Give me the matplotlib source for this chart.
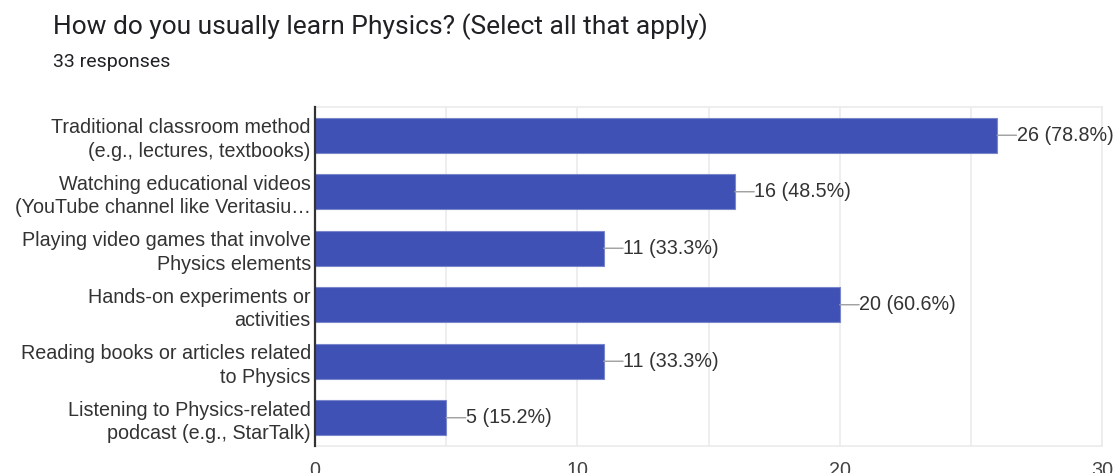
import matplotlib
matplotlib.use("Agg")
import matplotlib.pyplot as plt

# ---- data ----
categories = [
    "Traditional classroom method\n(e.g., lectures, textbooks)",
    "Watching educational videos\n(YouTube channel like Veritasiu\u2026",
    "Playing video games that involve\nPhysics elements",
    "Hands-on experiments or\nactivities",
    "Reading books or articles related\nto Physics",
    "Listening to Physics-related\npodcast (e.g., StarTalk)",
]
counts = [26, 16, 11, 20, 11, 5]
percents = ["78.8%", "48.5%", "33.3%", "60.6%", "33.3%", "15.2%"]
xticks = [0, 10, 20, 30]

BAR, TXT, GRID = "#3f51b5", "#333333", "#ebebeb"
plt.rcParams.update({"font.family": ["Liberation Sans", "DejaVu Sans"]})

fig = plt.figure(figsize=(11.14, 4.73), dpi=100)
ax = fig.add_axes([0.2828, 0.0571, 0.7064, 0.7167])

y = list(range(len(categories)))
ax.barh(y, counts, height=0.62, color=BAR, edgecolor="#7986cb", linewidth=0.8, zorder=3)
for yi, c, p in zip(y, counts, percents):
    # leader line, then the value label right after it
    ax.annotate("", xy=(c, yi), xytext=(14, 0), textcoords="offset points",
                arrowprops=dict(arrowstyle="-", color="#9e9e9e", lw=1, shrinkA=0, shrinkB=0),
                annotation_clip=False)
    ax.annotate(f"{c} ({p})", xy=(c, yi), xytext=(14.2, 0), textcoords="offset points",
                ha="left", va="center", fontsize=14.2, color=TXT, annotation_clip=False)

ax.set_ylim(len(categories) - 0.5, -0.5)
ax.set_xlim(0, 30)
ax.set_yticks(y)
ax.set_yticklabels(categories, fontsize=14.2, color=TXT, linespacing=1.3)
ax.set_xticks(xticks)
ax.set_xticklabels([str(t) for t in xticks], fontsize=14.2, color="#444444")
ax.set_xticks(range(0, 31, 5), minor=True)
ax.tick_params(axis="y", length=0, pad=3)
ax.tick_params(axis="x", which="both", length=0, pad=11)
ax.grid(axis="x", which="both", color=GRID, lw=1.2, zorder=0)
for s in ("top", "right", "bottom"):
    ax.spines[s].set_color(GRID)
    ax.spines[s].set_linewidth(1.2)
ax.spines["left"].set_color("#333333")
ax.spines["left"].set_linewidth(1.6)
ax.spines["left"].set_zorder(4)

fig.text(53 / 1114, 1 - 27 / 473, "How do you usually learn Physics? (Select all that apply)",
         family=["Roboto", "DejaVu Sans"], fontsize=19, color="#202124", va="center", ha="left")
fig.text(53 / 1114, 1 - 62 / 473, "33 responses",
         family=["Roboto", "DejaVu Sans"], fontsize=14, color="#202124", va="center", ha="left")

fig.savefig("out.png", dpi=100)
